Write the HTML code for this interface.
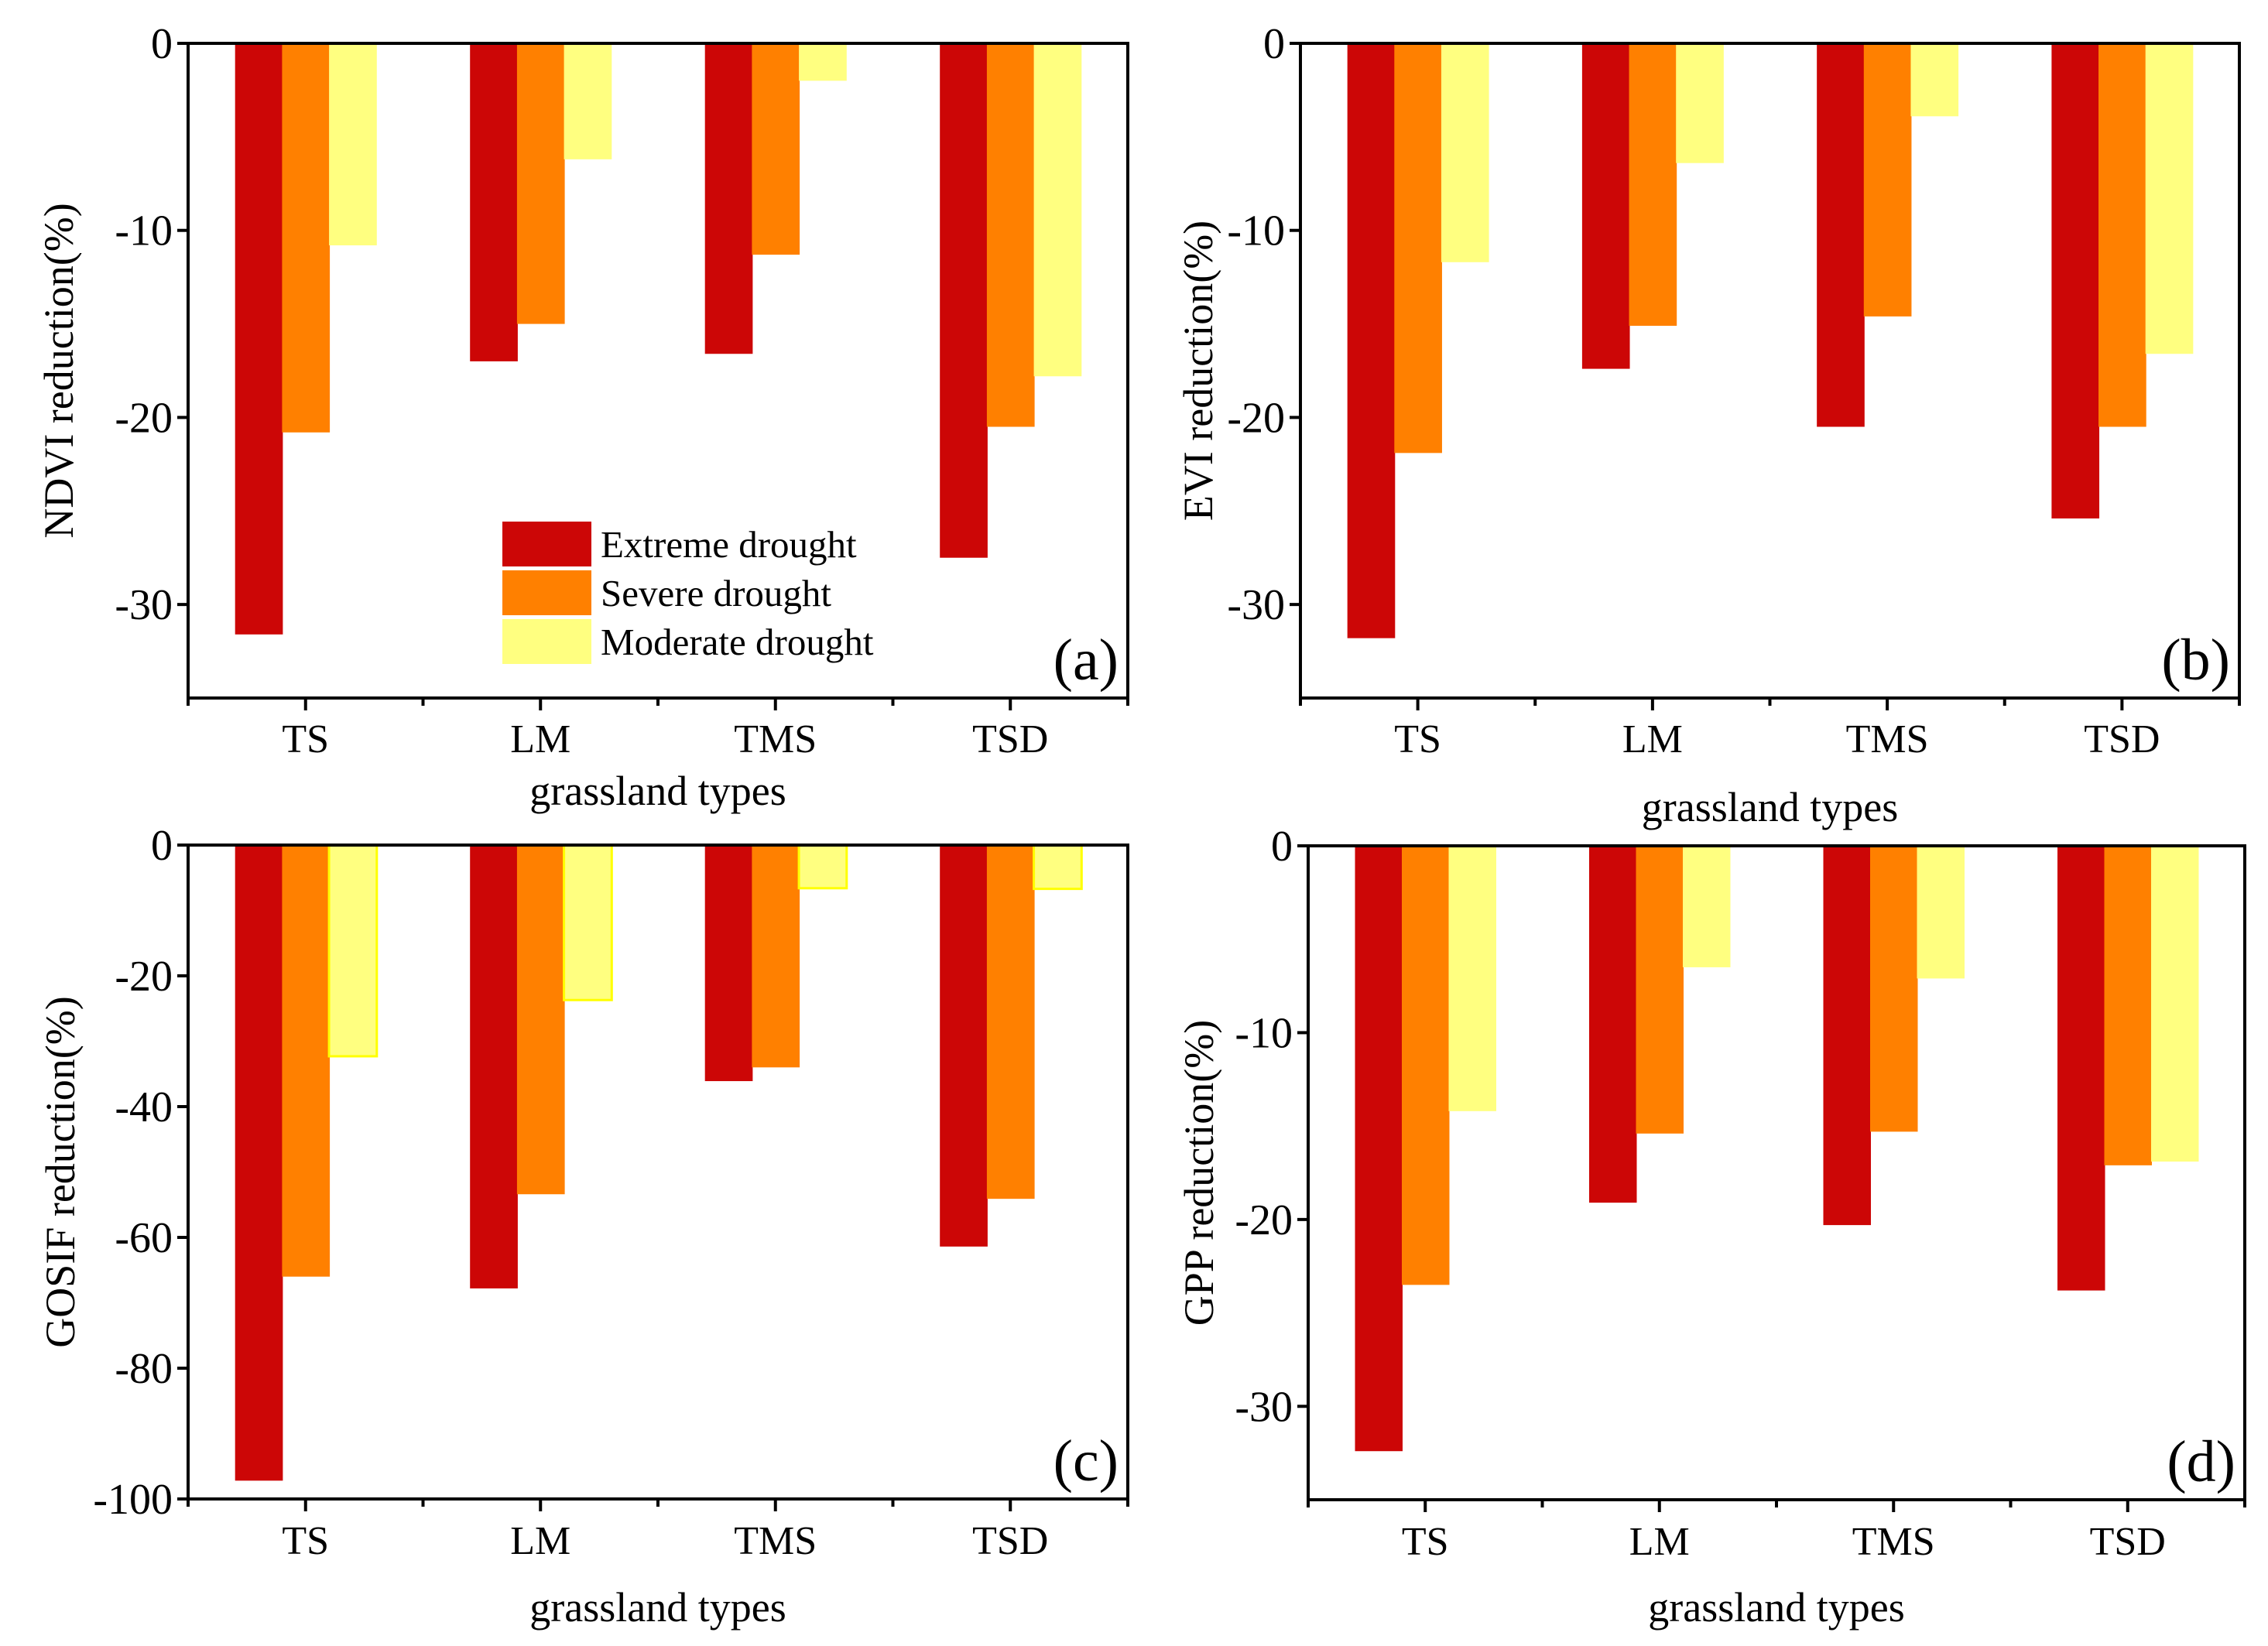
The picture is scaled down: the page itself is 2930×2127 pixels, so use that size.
<!DOCTYPE html>
<html><head><meta charset="utf-8"><style>
html,body{margin:0;padding:0;background:#fff;}
svg{display:block;font-family:"Liberation Serif",serif;}
</style></head><body>
<svg id="fig" xmlns="http://www.w3.org/2000/svg" width="2930" height="2127" viewBox="0 0 2930 2127"></svg>
<script>
const categories = ["TS","LM","TMS","TSD"];
const seriesNames = ["Extreme drought","Severe drought","Moderate drought"];
const ndviExtreme = [-31.6,-17.0,-16.6,-27.5];
const ndviSevere = [-20.8,-15.0,-11.3,-20.5];
const ndviModerate = [-10.8,-6.2,-2.0,-17.8];
const eviExtreme = [-31.8,-17.4,-20.5,-25.4];
const eviSevere = [-21.9,-15.1,-14.6,-20.5];
const eviModerate = [-11.7,-6.4,-3.9,-16.6];
const gosifExtreme = [-97.2,-67.8,-36.1,-61.4];
const gosifSevere = [-66.0,-53.4,-34.0,-54.1];
const gosifModerate = [-32.3,-23.7,-6.6,-6.7];
const gppExtreme = [-32.4,-19.1,-20.3,-23.8];
const gppSevere = [-23.5,-15.4,-15.3,-17.1];
const gppModerate = [-14.2,-6.5,-7.1,-16.9];
const ticksSmall = [0,-10,-20,-30];
const ticksGosif = [0,-20,-40,-60,-80,-100];

const NS="http://www.w3.org/2000/svg";
const svg=document.getElementById('fig');
const colors=["#cc0606","#ff8000","#ffff80"];
function mk(tag,attrs,parent){const e=document.createElementNS(NS,tag);for(const k in attrs)e.setAttribute(k,attrs[k]);(parent||svg).appendChild(e);return e;}

const panels=[
 {id:"ndvi",letter:"(a)",ytitle:"NDVI reduction(%)",L:243,R:1457,T:56,B:902,ymin:-35,ticks:ticksSmall,data:[ndviExtreme,ndviSevere,ndviModerate],ytx:77,tickY:954,titleY:1025,legend:true},
 {id:"evi",letter:"(b)",ytitle:"EVI reduction(%)",L:1680,R:2893,T:56,B:902,ymin:-35,ticks:ticksSmall,data:[eviExtreme,eviSevere,eviModerate],ytx:1549,tickY:954,titleY:1046},
 {id:"gosif",letter:"(c)",ytitle:"GOSIF reduction(%)",L:243,R:1457,T:1092,B:1937,ymin:-100,ticks:ticksGosif,data:[gosifExtreme,gosifSevere,gosifModerate],ytx:79,tickY:1990,titleY:2080,yellowBorder:true},
 {id:"gpp",letter:"(d)",ytitle:"GPP reduction(%)",L:1690,R:2900,T:1093,B:1938,ymin:-35,ticks:ticksSmall,data:[gppExtreme,gppSevere,gppModerate],ytx:1550,tickY:1991,titleY:2080}
];

panels.forEach(p=>{
  const g=mk('g',{});
  
  
  const y=v=>p.T+(0-v)/(0-p.ymin)*(p.B-p.T);
  const step=(p.R-p.L)/categories.length;
  const x=i=>p.L+(i+0.5)*step;
  const bw=step*0.2;
  p.data.forEach((arr,s)=>{
    arr.forEach((v,i)=>{
      const cx=x(i)+(s-1)*bw;
      const r=mk('rect',{x:cx-bw/2,y:y(0),width:bw+1,height:y(v)-y(0),fill:colors[s]},g);
      if(s===2&&p.yellowBorder){r.setAttribute('stroke','#ffff00');r.setAttribute('stroke-width','3');}
      
      
    });
  });
  const f=mk('rect',{x:p.L,y:p.T,width:p.R-p.L,height:p.B-p.T,fill:"none",stroke:"#000","stroke-width":4},g);
  
  
  p.ticks.forEach(t=>{
    mk('line',{x1:p.L-14,x2:p.L,y1:y(t),y2:y(t),stroke:"#000","stroke-width":4},g);
    const tx=mk('text',{x:p.L-20,y:y(t)+19,"text-anchor":"end","font-size":56},g);
    tx.textContent=String(t);
    
    
  });
  for(let i=0;i<=categories.length;i++){
    const xx=p.L+i*step;
    mk('line',{x1:xx,x2:xx,y1:p.B,y2:p.B+10,stroke:"#000","stroke-width":4},g);
  }
  categories.forEach((c,i)=>{
    mk('line',{x1:x(i),x2:x(i),y1:p.B,y2:p.B+16,stroke:"#000","stroke-width":4},g);
    const tx=mk('text',{x:x(i),y:p.tickY+18,"text-anchor":"middle","font-size":52},g);
    tx.textContent=c;
    
    
  });
  const xt=mk('text',{x:(p.L+p.R)/2,y:p.titleY+15,"text-anchor":"middle","font-size":54},g);
  xt.textContent="grassland types";
  
  
  const cy=(p.T+p.B)/2;
  const yt=mk('text',{x:p.ytx+17,y:cy,"text-anchor":"middle","font-size":54,transform:`rotate(-90 ${p.ytx+17} ${cy})`},g);
  yt.textContent=p.ytitle;
  
  
  const lt=mk('text',{x:p.R-12,y:p.B-24,"text-anchor":"end","font-size":76},g);
  lt.textContent=p.letter;
  
  
  if(p.legend){
    const lg=mk('g',{},g);
    
    
    seriesNames.forEach((n,s)=>{
      const by=674+s*63;
      const b=mk('rect',{x:649,y:by,width:115,height:58,fill:colors[s]},lg);
      
      
      const t=mk('text',{x:776,y:720+s*63,"font-size":49},lg);
      t.textContent=n;
      
      
    });
  }
});
</script>
</body></html>
